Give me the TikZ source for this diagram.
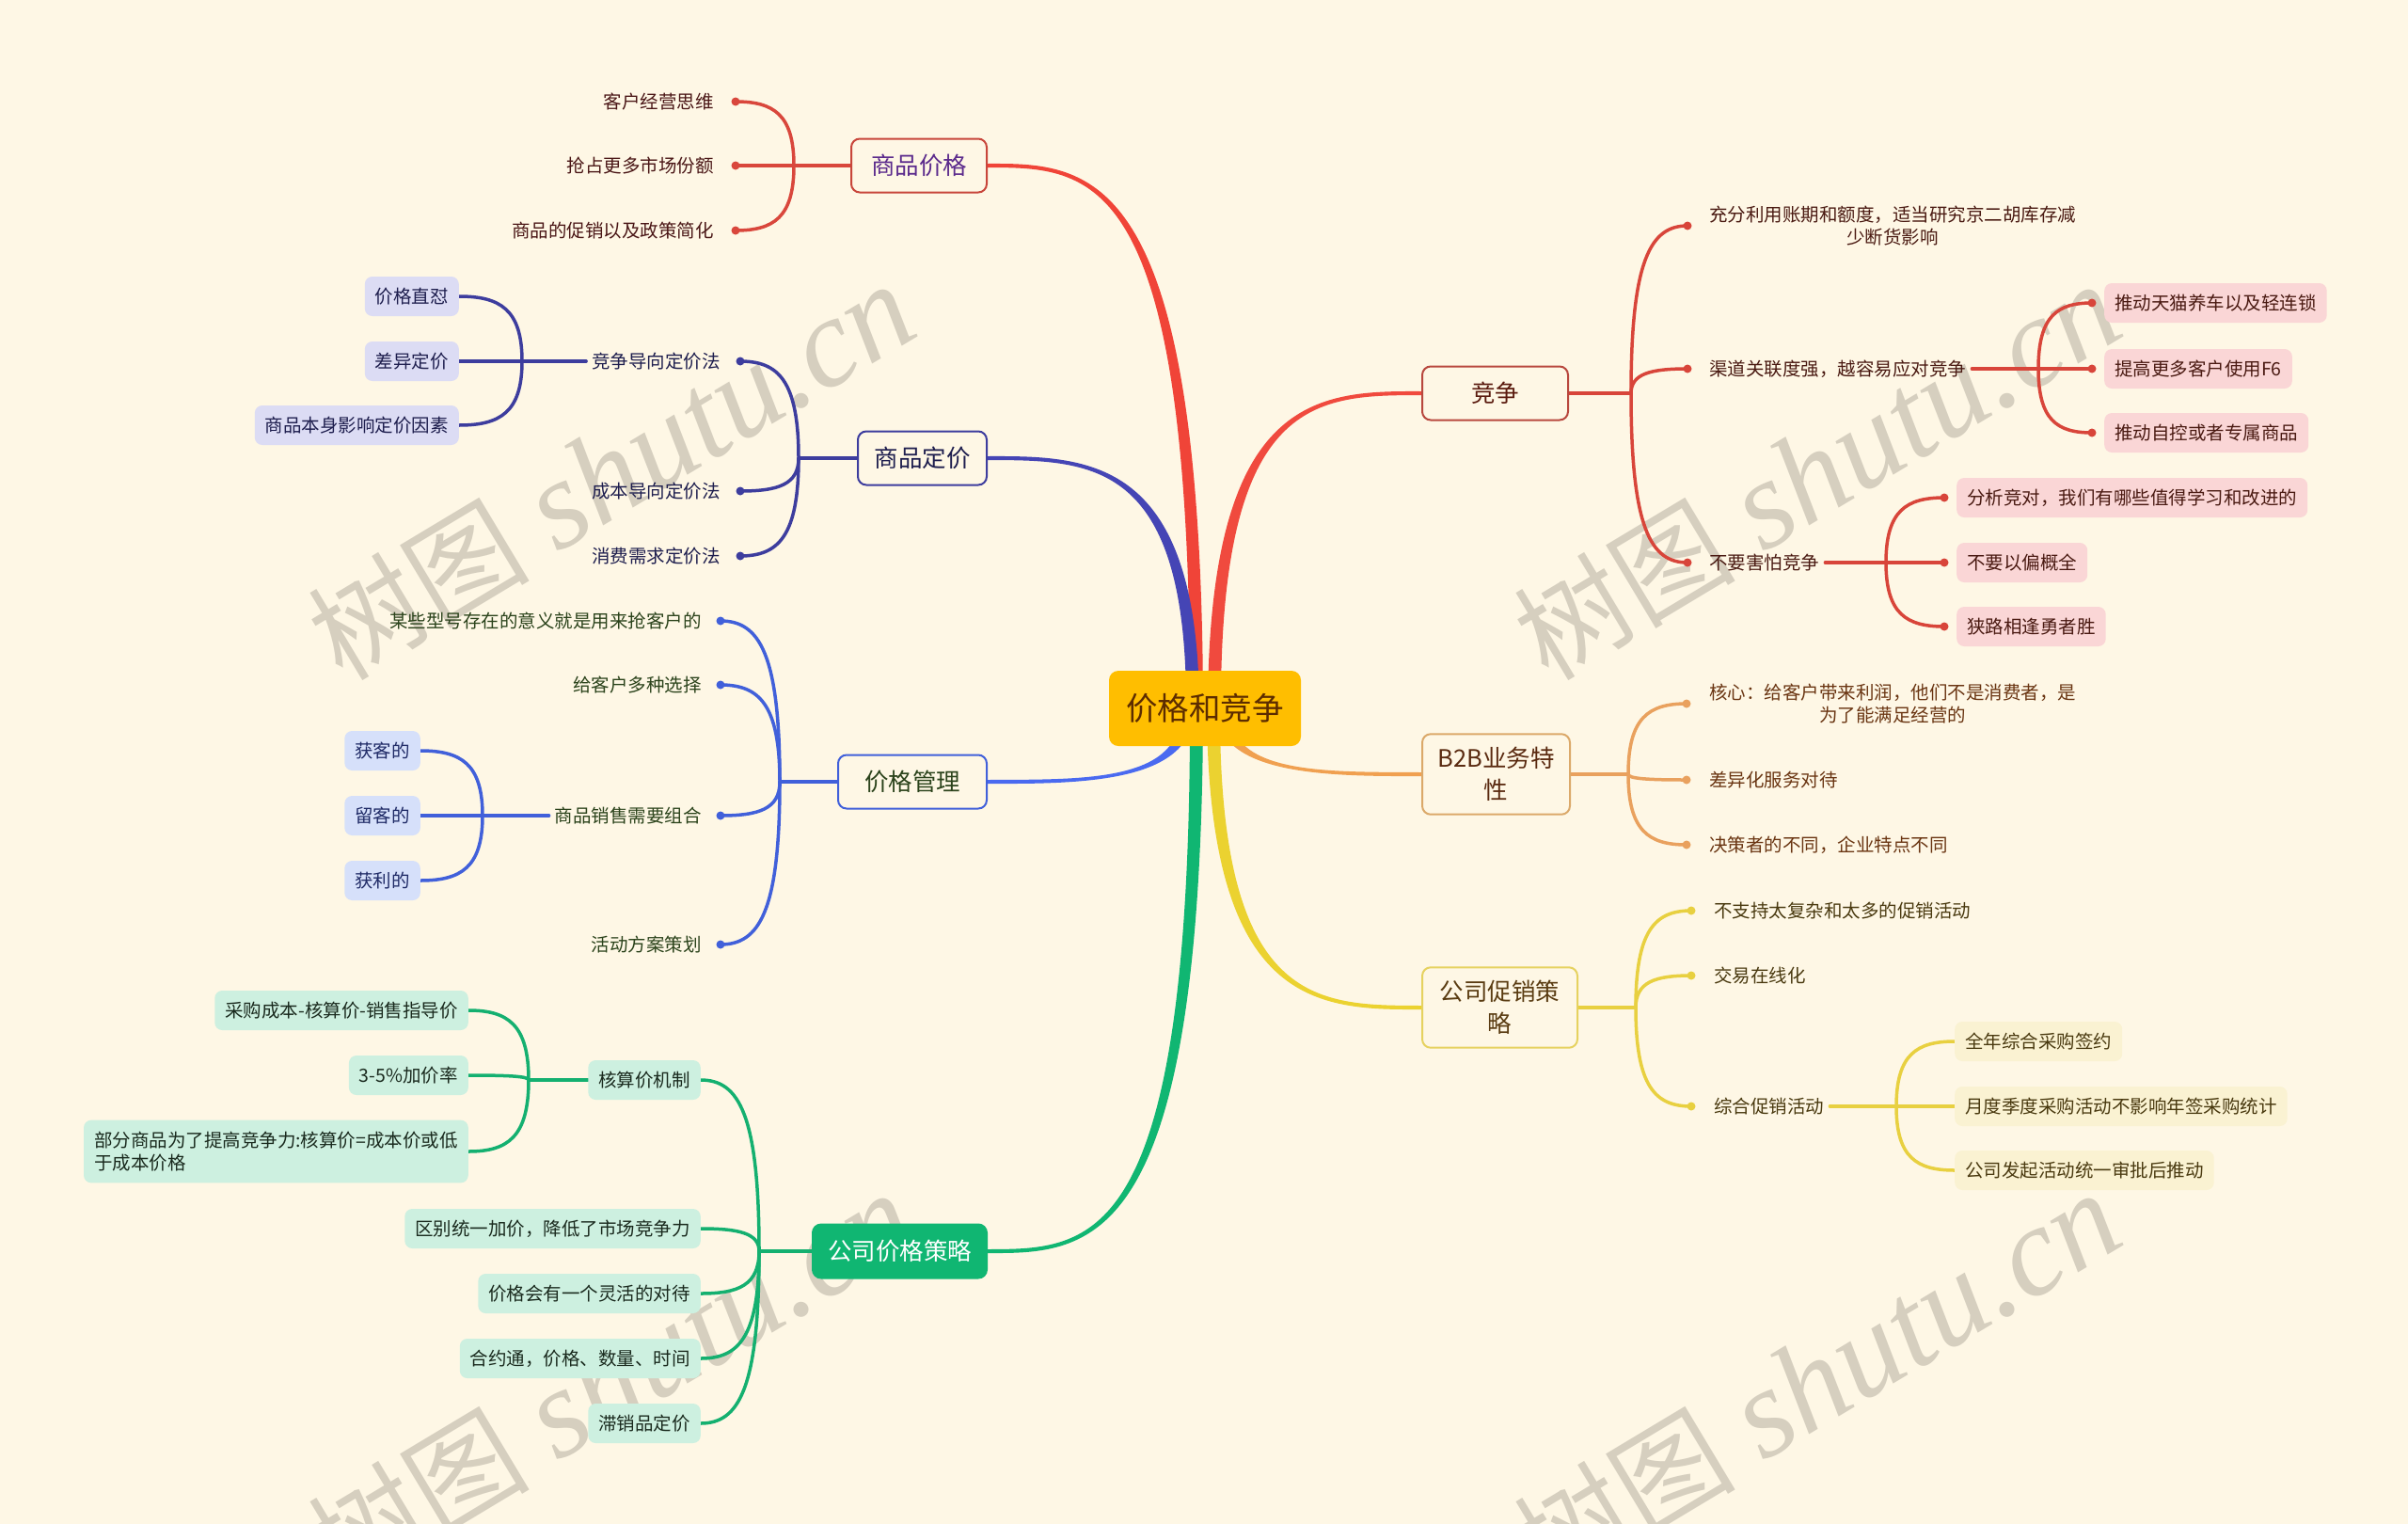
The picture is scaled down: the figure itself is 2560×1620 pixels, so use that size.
\documentclass[tikz,border=0pt]{standalone}
\usepackage{fontspec}
\setmainfont{Noto Sans CJK SC}
\newfontfamily\wmlatin{Liberation Serif}
\usetikzlibrary{calc}
\pgfdeclarelayer{wmlayer}
\pgfdeclarelayer{edges}
\pgfsetlayers{wmlayer,edges,main}

\definecolor{bgc}{HTML}{FEF7E5}
\definecolor{rootc}{HTML}{FFBE00}
\definecolor{roottx}{HTML}{5C2C00}
\definecolor{cA}{HTML}{F04438}
\definecolor{cAs}{HTML}{D9473C}
\definecolor{cAbd}{HTML}{C8463B}
\definecolor{cAtx}{HTML}{5B2A8C}
\definecolor{cAleaf}{HTML}{4A1616}
\definecolor{cB}{HTML}{4545B5}
\definecolor{cBs}{HTML}{3D3D9E}
\definecolor{cBtx}{HTML}{1E1E4E}
\definecolor{cBfill}{HTML}{DCDCF4}
\definecolor{cC}{HTML}{4A6AF0}
\definecolor{cCs}{HTML}{4160DA}
\definecolor{cCtx}{HTML}{2B431B}
\definecolor{cCfill}{HTML}{D6E0FA}
\definecolor{cCgtx}{HTML}{1F2A66}
\definecolor{cD}{HTML}{10B672}
\definecolor{cDs}{HTML}{14B070}
\definecolor{cDfill}{HTML}{CDF0E0}
\definecolor{cDtx}{HTML}{1A2A1E}
\definecolor{cE}{HTML}{F04A3E}
\definecolor{cEs}{HTML}{D8453A}
\definecolor{cEbd}{HTML}{B8483E}
\definecolor{cEtx}{HTML}{5A1A0E}
\definecolor{cEleaf}{HTML}{4A1A12}
\definecolor{cEfill}{HTML}{FAD6D6}
\definecolor{cF}{HTML}{F0A050}
\definecolor{cFs}{HTML}{E9A15E}
\definecolor{cFbd}{HTML}{DBA96A}
\definecolor{cFtx}{HTML}{5A2A10}
\definecolor{cFleaf}{HTML}{6A3512}
\definecolor{cG}{HTML}{EBD230}
\definecolor{cGs}{HTML}{E8D040}
\definecolor{cGbd}{HTML}{E6D260}
\definecolor{cGtx}{HTML}{5A3C12}
\definecolor{cGleaf}{HTML}{4A3A10}
\definecolor{cGfill}{HTML}{FAF2D2}
\definecolor{wmc}{HTML}{D6CFBF}

% tapered main connector: #1 start, #2 end, #3 colour
\newcommand{\maincurve}[3]{%
  \path (#1 |- #2) coordinate (mc1) ($(#1 |- #2)!0.5!(#2)$) coordinate (mc2);
  \fill[#3] ($(#1)!7pt!90:(mc1)$) .. controls ($(mc1)!6pt!-90:(#1)$) and ($(mc2)!2.5pt!90:(#2)$) .. ($(#2)!2pt!-90:(mc2)$)
    -- ($(#2)!2pt!90:(mc2)$) .. controls ($(mc2)!2.5pt!-90:(#2)$) and ($(mc1)!6pt!90:(#1)$) .. ($(#1)!7pt!-90:(mc1)$) -- cycle;
}
% sub-branch curve: #1 junction, #2 end, #3 colour
\newcommand{\branch}[3]{%
  \draw[sub,#3] (#1) .. controls ($(#1)!0.8!(#1 |- #2)$) and ($(#2)!0.65!(#1 |- #2)$) .. (#2);
}

\tikzset{
  root/.style={fill=rootc, rounded corners=10pt, text=roottx, font=\fontsize{33.5}{40}\selectfont, minimum width=204pt, minimum height=80pt, inner sep=0pt},
  topic/.style={draw, line width=2pt, rounded corners=9pt, fill=bgc, font=\fontsize{25.5}{34}\selectfont, align=center, minimum height=57pt, inner xsep=16pt, inner ysep=14pt},
  leaf/.style={font=\fontsize{19.5}{24.5}\selectfont, inner xsep=6pt, inner ysep=4pt, align=center},
  gbox/.style={rounded corners=8pt, font=\fontsize{19.5}{24.5}\selectfont, inner xsep=11pt, inner ysep=6pt, minimum height=42pt},
  dot/.style={circle, inner sep=0pt, minimum size=9pt},
  sub/.style={line width=3.5pt, line cap=round},
  wm/.style={text=wmc, rotate=31, inner sep=0pt},
}
\newcommand{\wmtext}{{\fontsize{118}{118}\selectfont 树图}\hspace{30pt}{\wmlatin\itshape\fontsize{135}{135}\selectfont shutu.cn}}

\begin{document}
\begin{tikzpicture}[x=1pt,y=-1pt]
\useasboundingbox (0,0) rectangle (2560,1620);
\begin{pgfonlayer}{wmlayer}
  \fill[bgc] (0,0) rectangle (2560,1620);
  \node[wm] (w1) at (650,502) {\wmtext};
  \node[wm] (w2) at (1932,502) {\wmtext};
  \node[wm] (w3) at (650,1468) {\wmtext};
  \node[wm] (w4) at (1932,1468) {\wmtext};
\end{pgfonlayer}

% ---------- root and main topics
\node[root] (root) at (1281,753) {价格和竞争};
\node[topic, draw=cAbd, text=cAtx, anchor=east, minimum width=144pt] (T1) at (1050,176) {商品价格};
\node[topic, draw=cBs, text=cBtx, anchor=east, minimum width=137pt] (T2) at (1050,487) {商品定价};
\node[topic, draw=cCs, text=cCtx, anchor=east, minimum width=158pt] (T3) at (1050,831) {价格管理};
\node[topic, draw=cD, fill=cD, text=white, anchor=east, minimum width=177pt] (T4) at (1050,1330) {公司价格策略};
\node[topic, draw=cEbd, text=cEtx, anchor=west, minimum width=155pt] (T5) at (1511,418) {竞争};
\node[topic, draw=cFbd, text=cFtx, anchor=west, minimum width=157pt] (T6) at (1511,823) {B2B业务特\\性};
\node[topic, draw=cGbd, text=cGtx, anchor=west, minimum width=165pt] (T7) at (1511,1071) {公司促销策\\略};

\coordinate (s1) at ($(root.center)+(-9,0)$);
\coordinate (s2) at ($(root.center)+(-13,0)$);
\coordinate (s3) at ($(root.center)+(-18,0)$);
\coordinate (s4) at ($(root.center)+(-9,0)$);
\coordinate (s5) at ($(root.center)+(10,0)$);
\coordinate (s6) at ($(root.center)+(19,0)$);
\coordinate (s7) at ($(root.center)+(9,0)$);

% ---------- branch 1: 商品价格
\node[leaf, text=cAleaf, anchor=east] (L11) at (765,108) {客户经营思维};
\node[leaf, text=cAleaf, anchor=east] (L12) at (765,176) {抢占更多市场份额};
\node[leaf, text=cAleaf, anchor=east] (L13) at (765,245) {商品的促销以及政策简化};
\node[dot, fill=cAs] (d11) at (782,108) {};
\node[dot, fill=cAs] (d12) at (782,176) {};
\node[dot, fill=cAs] (d13) at (782,245) {};
\coordinate (J1) at (844,176);

% ---------- branch 2: 商品定价
\node[leaf, text=cBtx, anchor=east] (L21) at (772,384) {竞争导向定价法};
\node[leaf, text=cBtx, anchor=east] (L22) at (772,522) {成本导向定价法};
\node[leaf, text=cBtx, anchor=east] (L23) at (772,591) {消费需求定价法};
\node[dot, fill=cBs] (d21) at (787,384) {};
\node[dot, fill=cBs] (d22) at (787,522) {};
\node[dot, fill=cBs] (d23) at (787,591) {};
\coordinate (J2) at (849,487);
\node[gbox, fill=cBfill, text=cBtx, anchor=east] (G211) at (488,315) {价格直怼};
\node[gbox, fill=cBfill, text=cBtx, anchor=east] (G212) at (488,384) {差异定价};
\node[gbox, fill=cBfill, text=cBtx, anchor=east] (G213) at (488,452) {商品本身影响定价因素};
\coordinate (J21) at (555,384);

% ---------- branch 3: 价格管理
\node[leaf, text=cCtx, anchor=east] (L31) at (752,660) {某些型号存在的意义就是用来抢客户的};
\node[leaf, text=cCtx, anchor=east] (L32) at (752,728) {给客户多种选择};
\node[leaf, text=cCtx, anchor=east] (L33) at (752,867) {商品销售需要组合};
\node[leaf, text=cCtx, anchor=east] (L34) at (752,1004) {活动方案策划};
\node[dot, fill=cCs] (d31) at (766,660) {};
\node[dot, fill=cCs] (d32) at (766,728) {};
\node[dot, fill=cCs] (d33) at (766,867) {};
\node[dot, fill=cCs] (d34) at (766,1004) {};
\coordinate (J3) at (829,831);
\node[gbox, fill=cCfill, text=cCgtx, anchor=east] (G331) at (447,798) {获客的};
\node[gbox, fill=cCfill, text=cCgtx, anchor=east] (G332) at (447,867) {留客的};
\node[gbox, fill=cCfill, text=cCgtx, anchor=east] (G333) at (447,936) {获利的};
\coordinate (J33) at (513,867);

% ---------- branch 4: 公司价格策略
\node[gbox, fill=cDfill, text=cDtx, anchor=east] (B41) at (745,1148) {核算价机制};
\node[gbox, fill=cDfill, text=cDtx, anchor=east] (B42) at (745,1306) {区别统一加价，降低了市场竞争力};
\node[gbox, fill=cDfill, text=cDtx, anchor=east] (B43) at (745,1375) {价格会有一个灵活的对待};
\node[gbox, fill=cDfill, text=cDtx, anchor=east] (B44) at (745,1444) {合约通，价格、数量、时间};
\node[gbox, fill=cDfill, text=cDtx, anchor=east] (B45) at (745,1513) {滞销品定价};
\coordinate (J4) at (807,1330);
\node[gbox, fill=cDfill, text=cDtx, anchor=east] (G411) at (498,1074) {采购成本-核算价-销售指导价};
\node[gbox, fill=cDfill, text=cDtx, anchor=east] (G412) at (498,1143) {3-5\%加价率};
\node[gbox, fill=cDfill, text=cDtx, anchor=east, align=left, inner ysep=12pt] (G413) at (498,1224) {部分商品为了提高竞争力:核算价=成本价或低\\于成本价格};
\coordinate (J41) at (562,1148);

% ---------- branch 5: 竞争
\node[leaf, text=cEleaf, anchor=west] (R51) at (1811,240) {充分利用账期和额度，适当研究京二胡库存减\\少断货影响};
\node[leaf, text=cEleaf, anchor=west] (R52) at (1811,392) {渠道关联度强，越容易应对竞争};
\node[leaf, text=cEleaf, anchor=west] (R53) at (1811,598) {不要害怕竞争};
\node[dot, fill=cEs] (d51) at (1794,240) {};
\node[dot, fill=cEs] (d52) at (1794,392) {};
\node[dot, fill=cEs] (d53) at (1794,598) {};
\coordinate (J5) at (1734,418);
\node[gbox, fill=cEfill, text=cEleaf, anchor=west] (G521) at (2237,322) {推动天猫养车以及轻连锁};
\node[gbox, fill=cEfill, text=cEleaf, anchor=west] (G522) at (2237,392) {提高更多客户使用F6};
\node[gbox, fill=cEfill, text=cEleaf, anchor=west] (G523) at (2237,460) {推动自控或者专属商品};
\node[dot, fill=cEs] (d521) at (2224,322) {};
\node[dot, fill=cEs] (d522) at (2224,392) {};
\node[dot, fill=cEs] (d523) at (2224,460) {};
\coordinate (J52) at (2167,392);
\node[gbox, fill=cEfill, text=cEleaf, anchor=west] (G531) at (2080,529) {分析竞对，我们有哪些值得学习和改进的};
\node[gbox, fill=cEfill, text=cEleaf, anchor=west] (G532) at (2080,598) {不要以偏概全};
\node[gbox, fill=cEfill, text=cEleaf, anchor=west] (G533) at (2080,666) {狭路相逢勇者胜};
\node[dot, fill=cEs] (d531) at (2067,529) {};
\node[dot, fill=cEs] (d532) at (2067,598) {};
\node[dot, fill=cEs] (d533) at (2067,666) {};
\coordinate (J53) at (2005,598);

% ---------- branch 6: B2B业务特性
\node[leaf, text=cFleaf, anchor=west] (R61) at (1811,748) {核心：给客户带来利润，他们不是消费者，是\\为了能满足经营的};
\node[leaf, text=cFleaf, anchor=west] (R62) at (1811,829) {差异化服务对待};
\node[leaf, text=cFleaf, anchor=west] (R63) at (1811,898) {决策者的不同，企业特点不同};
\node[dot, fill=cFs] (d61) at (1793,748) {};
\node[dot, fill=cFs] (d62) at (1793,829) {};
\node[dot, fill=cFs] (d63) at (1793,898) {};
\coordinate (J6) at (1731,823);

% ---------- branch 7: 公司促销策略
\node[leaf, text=cGleaf, anchor=west] (R71) at (1816,968) {不支持太复杂和太多的促销活动};
\node[leaf, text=cGleaf, anchor=west] (R72) at (1816,1037) {交易在线化};
\node[leaf, text=cGleaf, anchor=west] (R73) at (1816,1176) {综合促销活动};
\node[dot, fill=cGs] (d71) at (1798,968) {};
\node[dot, fill=cGs] (d72) at (1798,1037) {};
\node[dot, fill=cGs] (d73) at (1798,1176) {};
\coordinate (J7) at (1739,1071);
\node[gbox, fill=cGfill, text=cGleaf, anchor=west] (G731) at (2078,1107) {全年综合采购签约};
\node[gbox, fill=cGfill, text=cGleaf, anchor=west] (G732) at (2078,1176) {月度季度采购活动不影响年签采购统计};
\node[gbox, fill=cGfill, text=cGleaf, anchor=west] (G733) at (2078,1244) {公司发起活动统一审批后推动};
\coordinate (J73) at (2016,1176);

% ---------- connectors
\begin{pgfonlayer}{edges}
  \maincurve{s1}{T1.east}{cA}
  \maincurve{s2}{T2.east}{cB}
  \maincurve{s3}{T3.east}{cC}
  \maincurve{s4}{T4.east}{cD}
  \maincurve{s5}{T5.west}{cE}
  \maincurve{s6}{T6.west}{cF}
  \maincurve{s7}{T7.west}{cG}

  \draw[sub,cAs] (T1.west) -- (J1);
  \branch{J1}{d11.center}{cAs}
  \branch{J1}{d12.center}{cAs}
  \branch{J1}{d13.center}{cAs}

  \draw[sub,cBs] (T2.west) -- (J2);
  \branch{J2}{d21.center}{cBs}
  \branch{J2}{d22.center}{cBs}
  \branch{J2}{d23.center}{cBs}
  \draw[sub,cBs] (L21.west) -- (J21);
  \branch{J21}{G211.east}{cBs}
  \branch{J21}{G212.east}{cBs}
  \branch{J21}{G213.east}{cBs}

  \draw[sub,cCs] (T3.west) -- (J3);
  \branch{J3}{d31.center}{cCs}
  \branch{J3}{d32.center}{cCs}
  \branch{J3}{d33.center}{cCs}
  \branch{J3}{d34.center}{cCs}
  \draw[sub,cCs] (L33.west) -- (J33);
  \branch{J33}{G331.east}{cCs}
  \branch{J33}{G332.east}{cCs}
  \branch{J33}{G333.east}{cCs}

  \draw[sub,cDs] (T4.west) -- (J4);
  \branch{J4}{B41.east}{cDs}
  \branch{J4}{B42.east}{cDs}
  \branch{J4}{B43.east}{cDs}
  \branch{J4}{B44.east}{cDs}
  \branch{J4}{B45.east}{cDs}
  \draw[sub,cDs] (B41.west) -- (J41);
  \branch{J41}{G411.east}{cDs}
  \branch{J41}{G412.east}{cDs}
  \branch{J41}{G413.east}{cDs}

  \draw[sub,cEs] (T5.east) -- (J5);
  \branch{J5}{d51.center}{cEs}
  \branch{J5}{d52.center}{cEs}
  \branch{J5}{d53.center}{cEs}
  \draw[sub,cEs] (R52.east) -- (J52);
  \branch{J52}{d521.center}{cEs}
  \branch{J52}{d522.center}{cEs}
  \branch{J52}{d523.center}{cEs}
  \draw[sub,cEs] (R53.east) -- (J53);
  \branch{J53}{d531.center}{cEs}
  \branch{J53}{d532.center}{cEs}
  \branch{J53}{d533.center}{cEs}

  \draw[sub,cFs] (T6.east) -- (J6);
  \branch{J6}{d61.center}{cFs}
  \branch{J6}{d62.center}{cFs}
  \branch{J6}{d63.center}{cFs}

  \draw[sub,cGs] (T7.east) -- (J7);
  \branch{J7}{d71.center}{cGs}
  \branch{J7}{d72.center}{cGs}
  \branch{J7}{d73.center}{cGs}
  \draw[sub,cGs] (R73.east) -- (J73);
  \branch{J73}{G731.west}{cGs}
  \branch{J73}{G732.west}{cGs}
  \branch{J73}{G733.west}{cGs}
\end{pgfonlayer}
\end{tikzpicture}
\end{document}
